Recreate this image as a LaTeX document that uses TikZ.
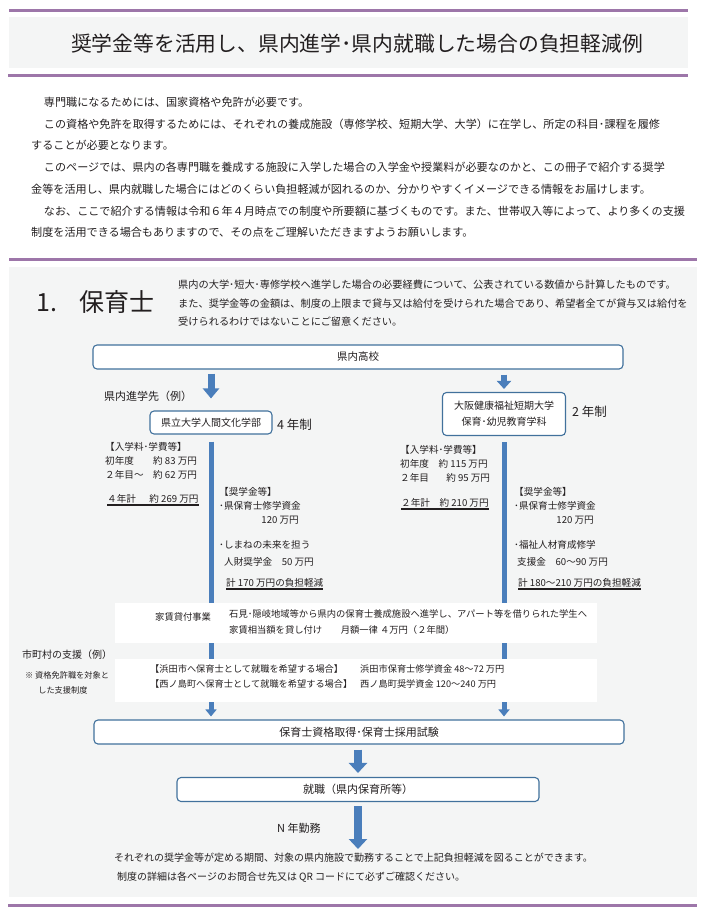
\documentclass[tikz,border=0pt]{standalone}
\usepackage{fontspec}
\setmainfont{Noto Sans CJK JP}
\usetikzlibrary{arrows.meta, positioning, calc}
\definecolor{mypurple}{HTML}{9D76A9}
\definecolor{mygray}{HTML}{F4F5F5}
\definecolor{myblue}{HTML}{4A7EBB}
\definecolor{myborder}{HTML}{41719C}
\definecolor{mytext}{HTML}{231F20}
\newcommand{\ulbar}[1]{\setbox0\hbox{#1}\rlap{\rule[-3pt]{\wd0}{1.3pt}}\box0}
\tikzset{
	flowbox/.style={
			draw=myborder,
			line width=1.1pt,
			rounded corners=4pt,
			fill=white,
			inner sep=0pt,
			text=mytext,
			font=\fontsize{10.5}{16}\selectfont
		},
	plain/.style={
			anchor=west,
			inner sep=0pt,
			text=mytext,
			align=left,
			font=\fontsize{9.6}{14}\selectfont
		},
	blocknote/.style={
			plain,
			anchor=north west
		},
	bigarrow/.style={
			draw=myblue,
			line width=7.5pt,
			-{Triangle[width=18pt,length=10pt]}
		},
	bararrow/.style={
			draw=myblue,
			line width=5pt,
			-{Triangle[width=11pt,length=7pt]}
		},
	purplerule/.style={
			mypurple,
			line width=3pt
		}
}

\begin{document}
\begin{tikzpicture}[x=1pt, y=-1pt]
\useasboundingbox (0,0) rectangle (705,918);
\fill[white] (0,0) rectangle (705,918);

\draw[purplerule] (9,10.5) -- (688,10.5);
\fill[mygray] (9,17) rectangle (688,68);
\draw[purplerule] (8,75) -- (688,75);
\node[plain, anchor=center, font=\fontsize{20.8}{26}\selectfont] (title) at (357,44)
{奨学金等を活用し、県内進学･県内就職した場合の負担軽減例};

\node[blocknote, font=\fontsize{11.1}{21.7}\selectfont] (intro) at (31,97)
{\hspace*{1.15em}専門職になるためには、国家資格や免許が必要です。\\
\hspace*{1.15em}この資格や免許を取得するためには、それぞれの養成施設（専修学校、短期大学、大学）に在学し、所定の科目･課程を履修\\
することが必要となります。\\
\hspace*{1.15em}このページでは、県内の各専門職を養成する施設に入学した場合の入学金や授業料が必要なのかと、この冊子で紹介する奨学\\
金等を活用し、県内就職した場合にはどのくらい負担軽減が図れるのか、分かりやすくイメージできる情報をお届けします。\\
\hspace*{1.15em}なお、ここで紹介する情報は令和６年４月時点での制度や所要額に基づくものです。また、世帯収入等によって、より多くの支援\\
制度を活用できる場合もありますので、その点をご理解いただきますようお願いします。};

\draw[purplerule] (9,259) -- (697,259);
\fill[mygray] (9,267) rectangle (697,897);
\draw[purplerule] (8,905) -- (697,905);

\node[plain, font=\fontsize{25}{30}\selectfont] (sect) at (36,302) {1.\hspace{0.9em}保育士};
\node[blocknote, font=\fontsize{10.2}{18.2}\selectfont] (sectnote) at (178,280)
{県内の大学･短大･専修学校へ進学した場合の必要経費について、公表されている数値から計算したものです。\\
また、奨学金等の金額は、制度の上限まで貸与又は給付を受けられた場合であり、希望者全てが貸与又は給付を\\
受けられるわけではないことにご留意ください。};

\node[flowbox, minimum width=530pt, minimum height=24pt] (hs) at (358,357) {県内高校};
\node[flowbox, minimum width=122pt, minimum height=23pt, font=\fontsize{10}{16}\selectfont] (uni1) at (211,422.5) {県立大学人間文化学部};
\node[flowbox, minimum width=123pt, minimum height=43pt, align=center, font=\fontsize{10}{16}\selectfont] (uni2) at (504,414) {大阪健康福祉短期大学\\保育･幼児教育学科};
\node[flowbox, minimum width=530pt, minimum height=24pt, font=\fontsize{11}{16}\selectfont] (exam) at (359,732) {保育士資格取得･保育士採用試験};
\node[flowbox, minimum width=362pt, minimum height=24pt, font=\fontsize{11}{16}\selectfont] (job) at (358,789.5) {就職（県内保育所等）};
\coordinate (goal) at (358,849);

\node[plain, font=\fontsize{11}{14}\selectfont] (route) at (104,396) {県内進学先（例）};
\node[plain, font=\fontsize{12.5}{14}\selectfont] (yrs1) at (277,425) {4 年制};
\node[plain, font=\fontsize{12.5}{14}\selectfont] (yrs2) at (572,412) {2 年制};

\draw[bigarrow, line width=7pt, -{Triangle[width=16pt,length=10pt]}, shorten <=4pt, shorten >=12pt] (hs.south -| uni1.north) -- (uni1.north);
\draw[bigarrow, line width=6pt, -{Triangle[width=14pt,length=8pt]}, shorten <=5pt, shorten >=3pt] (hs.south -| uni2.north) -- (uni2.north);
\draw[bararrow, shorten <=7pt, shorten >=3pt] (uni1.south) -- (uni1.south |- exam.north);
\draw[bararrow, shorten <=6pt, shorten >=3pt] (uni2.south) -- (uni2.south |- exam.north);
\draw[bigarrow, shorten <=5pt, shorten >=4pt] (exam.south -| job.north) -- (job.north);
\draw[bigarrow, shorten <=4pt] (job.south) -- (goal);

\node[blocknote] (feeL) at (105,442)
{【入学料･学費等】\\
初年度　　約 83 万円\\
２年目～　約 62 万円};
\node[plain] (sumL) at (107,500) {\ulbar{４年計\hspace{1.4em}約 269 万円}};
\node[blocknote] (aidL) at (219,487)
{【奨学金等】\\
･県保育士修学資金\\
\hspace*{4.4em}120 万円};
\node[plain] (aidL2) at (219,545) {･しまねの未来を担う};
\node[plain] (aidL3) at (224,562) {人財奨学金　50 万円};
\node[plain] (cutL) at (226,584) {\ulbar{計 170 万円の負担軽減}};

\node[blocknote] (feeR) at (400,445)
{【入学料･学費等】\\
初年度　約 115 万円\\
２年目\hspace{1.8em}約 95 万円};
\node[plain] (sumR) at (401,504) {\ulbar{２年計\hspace{1em}約 210 万円}};
\node[blocknote] (aidR) at (514,487)
{【奨学金等】\\
･県保育士修学資金\\
\hspace*{4.4em}120 万円};
\node[plain] (aidR2) at (514,545) {･福祉人材育成修学};
\node[plain] (aidR3) at (517,562) {支援金　60～90 万円};
\node[plain] (cutR) at (518,584) {\ulbar{計 180～210 万円の負担軽減}};

\fill[white] (115,603) rectangle (597,643);
\node[plain, font=\fontsize{9.3}{16}\selectfont] (rent) at (155,617) {家賃貸付事業};
\node[blocknote, font=\fontsize{9.3}{16}\selectfont] (rentnote) at (229,609)
{石見･隠岐地域等から県内の保育士養成施設へ進学し、アパート等を借りられた学生へ\\
家賃相当額を貸し付け　　月額一律 ４万円（２年間）};

\node[plain, font=\fontsize{10}{14}\selectfont] (town) at (22,655) {市町村の支援（例）};
\node[blocknote, font=\fontsize{8.2}{15}\selectfont] (townnote) at (25,671)
{※ 資格免許職を対象と\\
\hspace*{1.6em}した支援制度};
\fill[white] (115,659) rectangle (597,702);
\node[blocknote, font=\fontsize{9.2}{14.5}\selectfont] (wish) at (150,665)
{【浜田市へ保育士として就職を希望する場合】\\
【西ノ島町へ保育士として就職を希望する場合】};
\node[blocknote, font=\fontsize{9.2}{14.5}\selectfont] (grant) at (360,665)
{浜田市保育士修学資金 48～72 万円\\
西ノ島町奨学資金 120～240 万円};

\node[plain, font=\fontsize{11}{14}\selectfont] (work) at (277,828) {N 年勤務};
\node[blocknote, font=\fontsize{10}{19}\selectfont] (closing) at (114,853)
{それぞれの奨学金等が定める期間、対象の県内施設で勤務することで上記負担軽減を図ることができます。\\
\hspace*{3pt}制度の詳細は各ページのお問合せ先又は QR コードにて必ずご確認ください。};
\end{tikzpicture}
\end{document}
